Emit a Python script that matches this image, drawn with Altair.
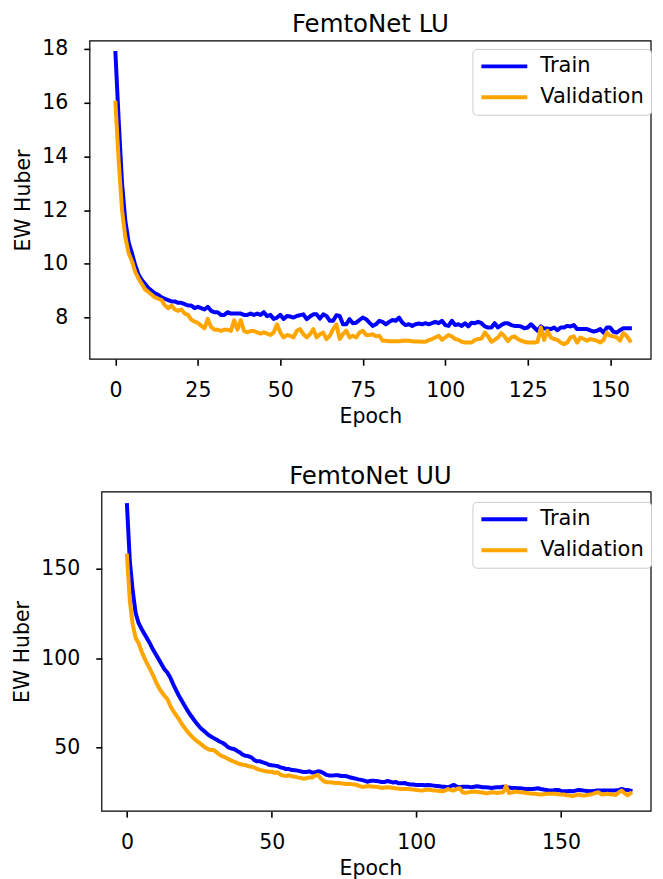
import altair as alt
import pandas as pd

# ---------------- data ----------------
LU_TRAIN = [
    17.85, 15.3, 13.0, 11.6, 10.8, 10.4, 9.95, 9.6, 9.4, 9.25,
    9.1, 9.0, 8.9, 8.85, 8.75, 8.7, 8.65, 8.6, 8.6, 8.55,
    8.55, 8.5, 8.45, 8.45, 8.35, 8.4, 8.35, 8.3, 8.4, 8.25,
    8.2, 8.2, 8.1, 8.1, 8.2, 8.15, 8.15, 8.15, 8.15, 8.1,
    8.1, 8.15, 8.1, 8.15, 8.1, 8.2, 8.05, 8.1, 7.95, 8.0,
    8.1, 7.95, 8.06, 8.04, 8.0, 8.06, 8.09, 8.12, 7.94, 8.04,
    8.12, 8.12, 7.96, 8.12, 8.06, 7.88, 7.88, 8.09, 8.06, 7.75,
    7.75, 7.94, 7.79, 7.81, 7.91, 8.0, 7.94, 7.81, 7.69, 7.75,
    7.88, 7.84, 7.75, 7.84, 7.91, 7.88, 8.0, 7.81, 7.72, 7.75,
    7.69, 7.75, 7.78, 7.75, 7.79, 7.75, 7.79, 7.84, 7.79, 7.88,
    7.72, 7.69, 7.88, 7.72, 7.75, 7.69, 7.79, 7.67, 7.81, 7.79,
    7.84, 7.79, 7.67, 7.63, 7.63, 7.79, 7.63, 7.72, 7.79, 7.79,
    7.72, 7.69, 7.69, 7.67, 7.6, 7.63, 7.75, 7.63, 7.51, 7.67,
    7.59, 7.59, 7.57, 7.63, 7.53, 7.63, 7.63, 7.69, 7.67, 7.72,
    7.57, 7.57, 7.57, 7.57, 7.52, 7.48, 7.51, 7.57, 7.44, 7.63,
    7.63, 7.47, 7.44, 7.53, 7.6, 7.6, 7.6,
]
LU_VAL = [
    16.0, 13.8, 12.0, 11.0, 10.4, 10.1, 9.7, 9.45, 9.25, 9.05,
    8.95, 8.85, 8.75, 8.7, 8.65, 8.45, 8.35, 8.45, 8.3, 8.25,
    8.3, 8.15, 8.1, 7.92, 7.85, 7.8, 7.7, 7.6, 7.95, 7.65,
    7.55, 7.55, 7.5, 7.55, 7.55, 7.5, 7.9, 7.55, 7.9, 7.5,
    7.45, 7.5, 7.5, 7.45, 7.4, 7.45, 7.4, 7.35, 7.45, 7.75,
    7.44, 7.26, 7.35, 7.32, 7.26, 7.51, 7.57, 7.38, 7.26, 7.38,
    7.57, 7.26, 7.38, 7.44, 7.2, 7.32, 7.57, 7.75, 7.2, 7.38,
    7.51, 7.26, 7.32, 7.26, 7.44, 7.51, 7.35, 7.35, 7.38, 7.3,
    7.32, 7.14, 7.14, 7.12, 7.12, 7.12, 7.12, 7.14, 7.14, 7.14,
    7.12, 7.11, 7.11, 7.1, 7.1, 7.16, 7.2, 7.26, 7.32, 7.17,
    7.26, 7.35, 7.3, 7.2, 7.17, 7.1, 7.07, 7.07, 7.07, 7.17,
    7.2, 7.22, 7.44, 7.3, 7.1, 7.17, 7.26, 7.42, 7.3, 7.12,
    7.26, 7.3, 7.2, 7.14, 7.1, 7.07, 7.07, 7.07, 7.1, 7.63,
    7.17, 7.51, 7.26, 7.2, 7.17, 7.07, 7.01, 7.07, 7.26, 7.3,
    7.07, 7.26, 7.2, 7.14, 7.2, 7.17, 7.14, 7.07, 7.17, 7.44,
    7.32, 7.3, 7.26, 7.14, 7.42, 7.32, 7.14,
]
UU_TRAIN = [
    185.7, 154.1, 137.4, 125.3, 119.7, 116.5, 113.6, 110.8, 108.0, 104.8,
    102.0, 99.3, 96.5, 93.7, 91.8, 89.0, 85.3, 82.0, 78.8, 76.0,
    73.2, 70.4, 68.0, 65.8, 63.6, 61.7, 60.0, 58.7, 57.2, 56.1,
    55.2, 54.3, 53.3, 52.6, 51.5, 50.0, 49.4, 49.1, 48.1, 47.2,
    45.9, 45.3, 45.0, 44.4, 42.9, 42.2, 42.2, 41.6, 41.1, 40.3,
    40.0, 39.8, 39.6, 38.8, 38.5, 37.9, 37.9, 37.3, 37.2, 37.0,
    36.6, 36.2, 36.2, 36.6, 35.9, 36.0, 36.6, 36.4, 35.5, 34.6,
    34.2, 34.2, 34.4, 34.4, 34.0, 34.0, 33.8, 33.3, 32.9, 32.5,
    32.1, 31.8, 31.4, 30.8, 31.2, 31.4, 31.2, 31.0, 30.6, 30.6,
    31.2, 30.8, 30.3, 30.6, 29.9, 29.9, 30.1, 29.5, 29.2, 29.2,
    29.0, 29.0, 29.0, 28.8, 29.0, 28.8, 28.6, 28.4, 28.2, 28.0,
    27.9, 27.7, 28.4, 29.0, 28.0, 27.7, 28.0, 28.0, 27.9, 27.7,
    28.0, 28.2, 28.0, 27.7, 27.7, 27.5, 27.3, 27.5, 27.7, 27.7,
    28.0, 27.9, 27.5, 27.3, 27.3, 27.1, 27.1, 26.9, 26.7, 26.7,
    26.7, 26.9, 27.1, 26.7, 26.4, 26.2, 25.8, 25.8, 26.2, 26.2,
    25.6, 25.4, 25.4, 25.6, 25.4, 25.8, 26.2, 26.0, 25.8, 25.6,
    25.4, 25.6, 25.8, 25.8, 25.8, 25.8, 25.8, 25.8, 25.8, 26.0,
    26.2, 26.7, 26.2, 26.2, 25.8,
]
UU_VAL = [
    157.4, 131.8, 118.8, 111.3, 108.5, 103.9, 100.2, 96.8, 93.7, 90.5,
    86.8, 83.5, 81.0, 78.8, 77.0, 73.2, 70.4, 68.0, 65.8, 63.0,
    60.8, 58.6, 56.9, 55.2, 53.7, 52.6, 51.3, 50.0, 49.1, 48.5,
    48.5, 47.2, 45.9, 45.0, 44.4, 43.5, 42.6, 42.0, 41.3, 40.7,
    40.3, 40.1, 39.4, 39.2, 38.8, 37.9, 37.4, 37.0, 36.6, 36.4,
    36.4, 35.7, 36.1, 34.8, 34.2, 33.9, 34.4, 33.8, 33.6, 33.2,
    32.9, 32.5, 32.7, 33.2, 33.2, 34.0, 34.6, 32.5, 31.0, 30.5,
    30.5, 30.3, 30.1, 30.1, 29.9, 29.7, 29.5, 29.5, 29.3, 29.2,
    28.6, 28.0, 28.0, 28.2, 28.2, 28.0, 28.0, 27.7, 27.3, 27.5,
    27.7, 27.5, 27.3, 27.1, 26.9, 26.7, 26.7, 26.7, 26.6, 26.4,
    26.2, 26.0, 25.8, 26.2, 26.4, 26.2, 25.8, 25.8, 25.6, 25.4,
    25.8, 26.7, 26.0, 25.8, 26.7, 27.1, 24.9, 24.5, 24.9, 25.1,
    25.3, 25.1, 24.9, 24.7, 24.3, 24.5, 24.9, 24.7, 24.5, 24.7,
    24.9, 28.3, 24.5, 24.7, 25.3, 25.1, 24.9, 24.7, 24.5, 24.3,
    24.1, 24.0, 23.8, 23.6, 23.8, 24.0, 24.0, 24.0, 24.0, 23.8,
    23.6, 23.6, 23.2, 23.0, 22.7, 23.2, 23.6, 23.2, 23.0, 23.4,
    23.6, 24.0, 24.5, 24.9, 23.6, 23.8, 24.0, 23.8, 23.6, 23.4,
    24.9, 25.8, 24.3, 23.2, 24.3,
]
SERIES = ["Train", "Validation"]
COLORS = ["#0000ff", "#ffa500"]
LU_XTICKS = [0, 25, 50, 75, 100, 125, 150]
LU_YTICKS = [8, 10, 12, 14, 16, 18]
UU_XTICKS = [0, 50, 100, 150]
UU_YTICKS = [50, 100, 150]

FONT = "DejaVu Sans"
W = 562.5


def frame(train, val):
    n1, n2 = len(train), len(val)
    return pd.DataFrame({
        "Epoch": list(range(n1)) + list(range(n2)),
        "value": train + val,
        "series": [SERIES[0]] * n1 + [SERIES[1]] * n2,
    })


def panel(train, val, title, xdom, ydom, xticks, yticks, h, inset, lx, ly):
    lines = alt.Chart(frame(train, val)).mark_line(
        strokeWidth=4, strokeCap="square", strokeJoin="round", clip=True
    ).encode(
        x=alt.X("Epoch:Q",
                scale=alt.Scale(domain=xdom, nice=False, zero=False),
                axis=alt.Axis(values=xticks, title="Epoch")),
        y=alt.Y("value:Q",
                scale=alt.Scale(domain=ydom, nice=False, zero=False),
                axis=alt.Axis(values=yticks, title="EW Huber", offset=-inset)),
        color=alt.Color("series:N",
                        scale=alt.Scale(domain=SERIES, range=COLORS),
                        legend=alt.Legend(
                            title=None, orient="none", legendX=lx, legendY=ly,
                            symbolType="stroke", symbolSize=2116,
                            symbolStrokeWidth=4, clipHeight=21, rowPadding=9,
                            labelFont=FONT, labelFontSize=21,
                            labelColor="black", labelOffset=11, padding=7,
                            fillColor="white", strokeColor="#cccccc",
                            cornerRadius=4)),
    )
    box = alt.Chart(pd.DataFrame({"f": [0]})).mark_rect(
        fillOpacity=0, stroke="black", strokeWidth=1.2
    ).encode(
        x=alt.value(inset), x2=alt.value(W), y=alt.value(0), y2=alt.value(h)
    )
    return alt.layer(lines, box).properties(title=title, width=W, height=h)


top = panel(LU_TRAIN, LU_VAL, "FemtoNet LU", [-7.77, 162.4], [6.45, 18.3],
            LU_XTICKS, LU_YTICKS, 319, 0, 383.5, 8)
bottom = panel(UU_TRAIN, UU_VAL, "FemtoNet UU", [-12.84, 181.1], [14.3, 193.1],
               UU_XTICKS, UU_YTICKS, 320, 12, 383.5, 10)

chart = alt.vconcat(top, bottom, spacing=35).resolve_scale(
    color="independent").resolve_legend(color="independent").properties(
    padding={"left": 4, "top": 2, "right": 2, "bottom": 0}
).configure_view(
    stroke="transparent"
).configure_axis(
    domain=False, grid=False, tickColor="black", tickWidth=1.6, tickSize=6,
    labelFont=FONT, labelFontSize=20.5, labelColor="black", labelPadding=16,
    titleFont=FONT, titleFontSize=20.5, titleFontWeight="normal",
    titleColor="black", titlePadding=8
).configure_axisX(
    labelPadding=15, titlePadding=6
).configure_title(
    font=FONT, fontSize=24.5, fontWeight="normal", color="black", offset=2
)

chart.save("out.html", embed_options={"renderer": "svg", "actions": False})
